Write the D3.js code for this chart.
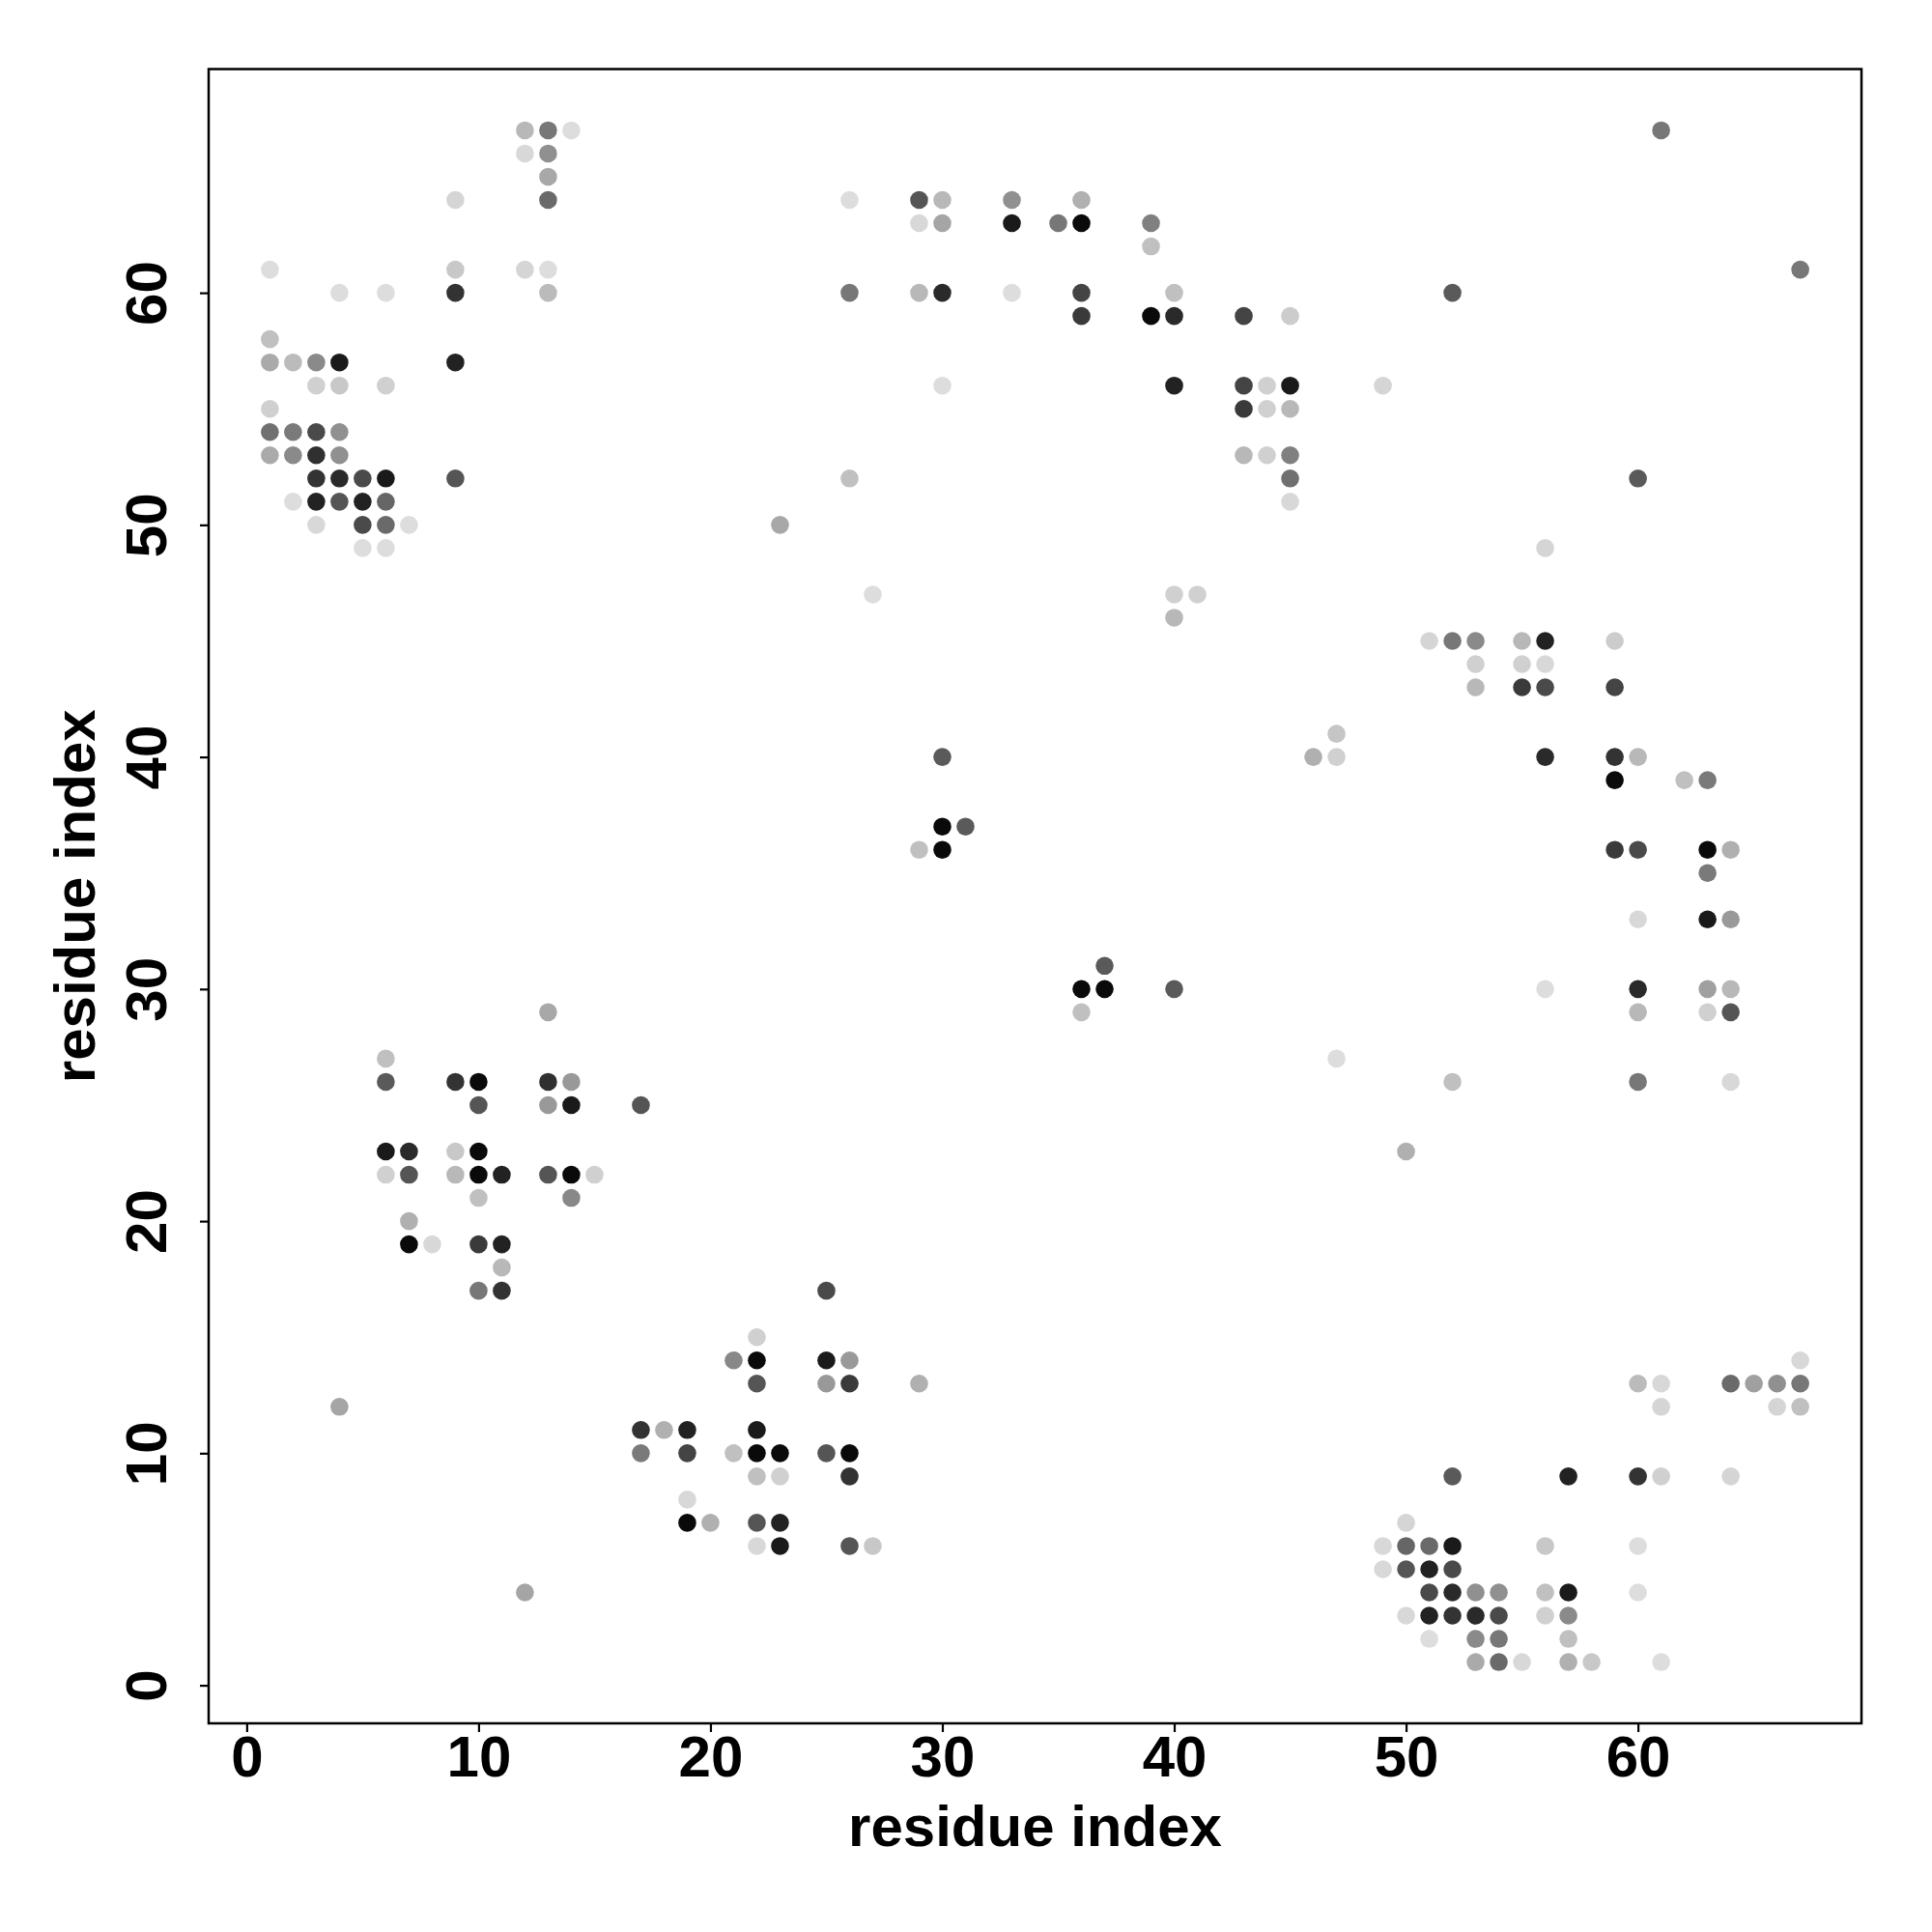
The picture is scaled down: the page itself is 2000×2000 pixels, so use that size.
<!DOCTYPE html>
<html>
<head>
<meta charset="utf-8">
<script src="https://cdn.jsdelivr.net/npm/d3@7"></script>
<style>
  html, body { margin: 0; padding: 0; background: #fff; }
  svg { display: block; }
  text { font-family: "Liberation Sans", Arial, Helvetica, sans-serif; font-weight: bold; }
</style>
</head>
<body>
<script>
// residue i (x), residue j (y), grey level of the dot (0 = black, 255 = white)
const resI = [
  1,4,6,1,1,2,3,4,3,4,6,1,1,2,3,4,1,2,3,4,3,4,5,6,2,3,4,5,6,3,5,6,7,5,6,
  9,9,9,9,9,12,13,14,12,13,13,13,12,13,13,
  26,29,30,33,36,29,30,33,35,36,39,39,26,29,30,33,36,40,36,39,40,43,45,
  30,40,43,44,45,43,44,45,43,44,45,26,45,45,23,27,40,41,40,
  61,67,52,49,60,56,
  13,6,6,9,10,13,14,10,13,14,17,6,7,9,10,6,7,9,10,11,13,14,15,10,14,7,7,8,10,11,11,10,11,4,12,
  22,21,22,25,26,22,25,26,29,25,17,18,19,22,17,19,21,22,23,25,26,22,23,26,19,19,20,22,23,22,23,26,27,
  30,30,31,29,30,37,36,37,40,36,46,47,47,47,
  51,52,53,55,56,59,53,55,56,53,55,56,59,56,59,60,59,62,63,59,60,63,64,63,60,63,64,56,60,63,64,60,63,64,52,60,64,50,
  67,60,61,64,65,66,67,61,66,67,52,57,60,61,64,50,49,50,51,52,56,60,49,50,51,52,
  51,52,53,54,56,57,60,50,51,52,53,54,56,57,51,53,54,57,53,54,55,57,58,61
];
const resJ = [
  61,60,60,58,57,57,57,57,56,56,56,55,54,54,54,54,53,53,53,53,52,52,52,52,51,51,51,51,51,50,50,50,50,49,49,
  64,61,60,57,52,67,67,67,66,66,65,64,61,61,60,
  64,64,64,64,64,63,63,63,63,63,63,62,60,60,60,60,60,60,59,59,59,59,59,
  56,56,56,56,56,55,55,55,53,53,53,52,52,51,50,47,47,47,46,
  67,61,60,56,52,49,
  29,27,26,26,26,26,26,25,25,25,25,23,23,23,23,22,22,22,22,22,22,22,22,21,21,20,19,19,19,19,18,17,17,12,4,
  15,14,14,14,14,13,13,13,13,17,11,11,11,11,10,10,10,10,10,10,10,9,9,9,8,7,7,7,7,6,6,6,6,
  40,37,37,36,36,31,30,30,30,29,40,40,41,27,
  45,45,45,45,45,45,44,44,44,43,43,43,43,40,40,40,39,39,39,36,36,36,36,35,33,33,33,30,30,30,30,29,29,29,26,26,26,23,
  14,13,13,13,13,13,13,12,12,12,9,9,9,9,9,7,6,6,6,6,6,6,5,5,5,5,
  4,4,4,4,4,4,4,3,3,3,3,3,3,3,2,2,2,2,1,1,1,1,1,1
];
const shade = [
  0xdd,0xdd,0xdd,0xc0,0xaa,0xbb,0x8a,0x1a,0xd0,0xc8,0xd0,0xd0,0x70,0x7a,0x4a,0x90,0xaa,0x8a,0x30,0x90,0x33,0x2a,0x4a,0x1a,0xdd,0x22,0x55,0x22,0x66,0xd8,0x4a,0x6a,0xdd,0xdd,0xdd,
  0xd5,0xc8,0x33,0x22,0x55,0xb8,0x77,0xdd,0xd8,0x90,0xa8,0x6a,0xd5,0xdd,0xbb,
  0xdd,0x55,0xb8,0x90,0xb0,0xd8,0xa5,0x1a,0x77,0x0a,0x80,0xc0,0x77,0xb8,0x2a,0xdd,0x44,0xc0,0x3a,0x0a,0x2a,0x44,0xcc,
  0xdd,0x22,0x44,0xd0,0x1a,0x3a,0xd0,0xb8,0xb8,0xd0,0x80,0xc0,0x70,0xd8,0xa8,0xdd,0xd0,0xd0,0xb8,
  0x77,0x77,0x5a,0xd5,0x5a,0xd5,
  0xa8,0xc0,0x5a,0x33,0x0a,0x30,0x99,0x55,0x99,0x1a,0x55,0x1a,0x2a,0xc8,0x0a,0xd0,0x55,0xb8,0x0a,0x22,0x55,0x0a,0xd0,0xc0,0x88,0xb0,0x0a,0xd8,0x3a,0x22,0xb8,0x77,0x33,0xa5,0xa5,
  0xd0,0x88,0x0a,0x1a,0x99,0x55,0x99,0x3a,0xb0,0x4a,0x33,0xb0,0x22,0x1a,0x7a,0x44,0xc0,0x0a,0x0a,0x55,0x0a,0xc0,0xd0,0x33,0xd8,0x0a,0xb0,0x55,0x22,0xd8,0x1a,0x55,0xc8,
  0x5a,0x0a,0x5a,0xc0,0x0a,0x5a,0x0a,0x0a,0x5a,0xc0,0xb0,0xd0,0xc5,0xdd,
  0xd5,0x77,0x8a,0xb8,0x22,0xcc,0xd0,0xd0,0xd8,0xb8,0x3a,0x4a,0x44,0x2a,0x33,0xb8,0x0a,0xc0,0x7a,0x3a,0x4a,0x0a,0xb0,0x7a,0xd8,0x1a,0x99,0xdd,0x2a,0xa0,0xb8,0xb8,0xd0,0x55,0xc0,0x77,0xd8,0xb0,
  0xd8,0xbb,0xd8,0x6a,0xa0,0x90,0x77,0xd5,0xd5,0xc0,0x5a,0x22,0x33,0xd0,0xd5,0xd5,0xd8,0x66,0x6a,0x1a,0xc8,0xdd,0xd8,0x55,0x22,0x4a,
  0x4a,0x2a,0x90,0x90,0xc0,0x1a,0xdd,0xd8,0x22,0x33,0x2a,0x4a,0xd0,0x8a,0xdd,0x8a,0x77,0xc0,0xaa,0x6a,0xd8,0xb0,0xc8,0xdd
];
const xTicks = [0, 10, 20, 30, 40, 50, 60];
const yTicks = [0, 10, 20, 30, 40, 50, 60];
const xTitle = "residue index";
const yTitle = "residue index";

const W = 2000, H = 2000;
const pLeft = 216, pRight = 1927, pTop = 71.5, pBottom = 1784;
const dom = [-1.64, 69.64];
const fontSize = 60;

const x = d3.scaleLinear().domain(dom).range([pLeft, pRight]);
const y = d3.scaleLinear().domain(dom).range([pBottom, pTop]);

const svg = d3.select("body").append("svg").attr("width", W).attr("height", H);
svg.append("rect").attr("width", W).attr("height", H).attr("fill", "#fff");

const pts = resI.map((d, i) => ({ i: d, j: resJ[i], g: shade[i] }));

svg.append("g").selectAll("circle").data(pts).join("circle")
  .attr("cx", d => x(d.i))
  .attr("cy", d => y(d.j))
  .attr("r", 9.3)
  .attr("fill", d => `rgb(${d.g},${d.g},${d.g})`);

// frame
svg.append("rect")
  .attr("x", pLeft).attr("y", pTop)
  .attr("width", pRight - pLeft).attr("height", pBottom - pTop)
  .attr("fill", "none").attr("stroke", "#000").attr("stroke-width", 2.5);

// x axis
const gx = svg.append("g").attr("transform", `translate(0,${pBottom})`)
  .call(d3.axisBottom(x).tickValues(xTicks).tickSize(9).tickSizeOuter(0).tickFormat(d3.format("d")));
gx.select(".domain").remove();
gx.selectAll(".tick line").attr("stroke", "#000").attr("stroke-width", 2.2);
gx.selectAll(".tick text")
  .attr("y", 55).attr("dy", 0)
  .attr("font-size", fontSize)
  .attr("font-family", '"Liberation Sans", Arial, sans-serif')
  .attr("font-weight", "bold")
  .attr("fill", "#000");

// y axis
const gy = svg.append("g").attr("transform", `translate(${pLeft},0)`)
  .call(d3.axisLeft(y).tickValues(yTicks).tickSize(9).tickSizeOuter(0).tickFormat(d3.format("d")));
gy.select(".domain").remove();
gy.selectAll(".tick line").attr("stroke", "#000").attr("stroke-width", 2.2);
gy.selectAll(".tick text")
  .attr("transform", "rotate(-90)")
  .attr("x", 0).attr("y", -44).attr("dy", 0)
  .attr("text-anchor", "middle")
  .attr("font-size", fontSize)
  .attr("font-family", '"Liberation Sans", Arial, sans-serif')
  .attr("font-weight", "bold")
  .attr("fill", "#000");

// titles
svg.append("text")
  .attr("x", (pLeft + pRight) / 2).attr("y", 1911)
  .attr("text-anchor", "middle")
  .attr("font-size", fontSize)
  .text(xTitle);

svg.append("text")
  .attr("transform", `translate(98,${(pTop + pBottom) / 2}) rotate(-90)`)
  .attr("text-anchor", "middle")
  .attr("font-size", fontSize)
  .text(yTitle);
</script>
</body>
</html>
